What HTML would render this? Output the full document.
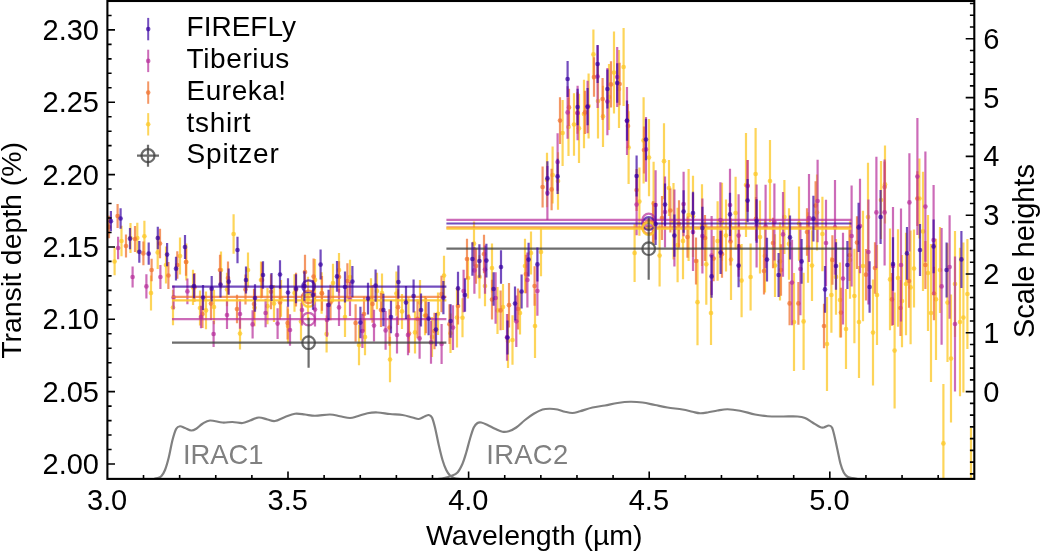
<!DOCTYPE html>
<html lang="en">
<head>
<meta charset="utf-8">
<title>Transit depth vs wavelength</title>
<style>
html,body{margin:0;padding:0;background:#fff;}
body{width:1040px;height:552px;overflow:hidden;font-family:"Liberation Sans",sans-serif;}
svg{display:block;will-change:transform;}
</style>
</head>
<body>
<svg width="1040" height="552" viewBox="0 0 1040 552" role="img" aria-label="Transit depth versus wavelength">
<rect x="0" y="0" width="1040" height="552" fill="#ffffff"/>
<defs><clipPath id="ax"><rect x="107.40" y="1.00" width="866.90" height="477.90"/></clipPath></defs>
<g clip-path="url(#ax)" fill="none">
<path d="M154.50 478.60 C155.00 478.50 156.38 478.39 157.50 478.00 C158.62 477.61 160.00 477.58 161.25 476.25 C162.50 474.92 163.75 473.12 165.00 470.00 C166.25 466.88 167.50 462.50 168.75 457.50 C170.00 452.50 171.25 444.79 172.50 440.00 C173.75 435.21 175.00 431.04 176.25 428.75 C177.50 426.46 178.54 426.38 180.00 426.25 C181.46 426.12 183.12 427.29 185.00 428.00 C186.88 428.71 189.38 430.38 191.25 430.50 C193.12 430.62 194.38 429.88 196.25 428.75 C198.12 427.62 200.21 425.12 202.50 423.75 C204.79 422.38 206.67 420.71 210.00 420.50 C213.33 420.29 218.75 422.25 222.50 422.50 C226.25 422.75 229.17 421.92 232.50 422.00 C235.83 422.08 239.58 423.25 242.50 423.00 C245.42 422.75 247.29 421.42 250.00 420.50 C252.71 419.58 255.83 417.67 258.75 417.50 C261.67 417.33 264.79 418.92 267.50 419.50 C270.21 420.08 272.08 421.42 275.00 421.00 C277.92 420.58 281.67 418.21 285.00 417.00 C288.33 415.79 291.67 414.17 295.00 413.75 C298.33 413.33 301.67 414.17 305.00 414.50 C308.33 414.83 310.83 415.75 315.00 415.75 C319.17 415.75 325.83 414.42 330.00 414.50 C334.17 414.58 336.67 415.67 340.00 416.25 C343.33 416.83 347.08 418.00 350.00 418.00 C352.92 418.00 354.58 417.04 357.50 416.25 C360.42 415.46 364.17 413.88 367.50 413.25 C370.83 412.62 373.75 412.38 377.50 412.50 C381.25 412.62 385.83 413.58 390.00 414.00 C394.17 414.42 398.75 414.42 402.50 415.00 C406.25 415.58 409.79 416.83 412.50 417.50 C415.21 418.17 416.67 419.21 418.75 419.00 C420.83 418.79 423.33 416.92 425.00 416.25 C426.67 415.58 427.58 414.79 428.75 415.00 C429.92 415.21 430.96 415.42 432.00 417.50 C433.04 419.58 433.88 422.92 435.00 427.50 C436.12 432.08 437.50 439.58 438.75 445.00 C440.00 450.42 441.25 455.83 442.50 460.00 C443.75 464.17 445.00 467.42 446.25 470.00 C447.50 472.58 448.71 474.17 450.00 475.50 C451.29 476.83 452.33 477.42 454.00 478.00 C455.67 478.58 459.00 478.83 460.00 479.00" stroke="#808080" stroke-width="2.2" stroke-linejoin="round"/>
<path d="M438.00 479.00 C439.00 478.83 441.83 478.50 444.00 478.00 C446.17 477.50 448.75 476.92 451.00 476.00 C453.25 475.08 455.58 474.54 457.50 472.50 C459.42 470.46 461.04 467.08 462.50 463.75 C463.96 460.42 465.00 456.67 466.25 452.50 C467.50 448.33 468.75 442.92 470.00 438.75 C471.25 434.58 472.50 430.12 473.75 427.50 C475.00 424.88 476.25 423.83 477.50 423.00 C478.75 422.17 479.58 422.17 481.25 422.50 C482.92 422.83 485.21 423.96 487.50 425.00 C489.79 426.04 492.50 427.62 495.00 428.75 C497.50 429.88 500.21 431.33 502.50 431.75 C504.79 432.17 506.46 431.96 508.75 431.25 C511.04 430.54 513.54 429.38 516.25 427.50 C518.96 425.62 522.08 422.29 525.00 420.00 C527.92 417.71 530.83 415.50 533.75 413.75 C536.67 412.00 539.79 410.33 542.50 409.50 C545.21 408.67 547.50 408.75 550.00 408.75 C552.50 408.75 555.00 409.00 557.50 409.50 C560.00 410.00 562.50 411.17 565.00 411.75 C567.50 412.33 570.00 413.08 572.50 413.00 C575.00 412.92 576.67 412.17 580.00 411.25 C583.33 410.33 588.33 408.46 592.50 407.50 C596.67 406.54 600.83 406.25 605.00 405.50 C609.17 404.75 613.33 403.62 617.50 403.00 C621.67 402.38 625.83 401.83 630.00 401.75 C634.17 401.67 638.33 401.96 642.50 402.50 C646.67 403.04 650.83 404.17 655.00 405.00 C659.17 405.83 662.92 406.75 667.50 407.50 C672.08 408.25 678.33 408.79 682.50 409.50 C686.67 410.21 689.58 411.12 692.50 411.75 C695.42 412.38 697.50 413.12 700.00 413.25 C702.50 413.38 704.58 412.96 707.50 412.50 C710.42 412.04 714.17 411.04 717.50 410.50 C720.83 409.96 723.75 409.21 727.50 409.25 C731.25 409.29 735.42 409.88 740.00 410.75 C744.58 411.62 750.42 413.58 755.00 414.50 C759.58 415.42 762.92 415.92 767.50 416.25 C772.08 416.58 777.50 416.46 782.50 416.50 C787.50 416.54 793.75 416.25 797.50 416.50 C801.25 416.75 802.50 417.00 805.00 418.00 C807.50 419.00 810.00 421.00 812.50 422.50 C815.00 424.00 818.12 426.17 820.00 427.00 C821.88 427.83 822.29 427.75 823.75 427.50 C825.21 427.25 827.38 425.50 828.75 425.50 C830.12 425.50 831.04 425.71 832.00 427.50 C832.96 429.29 833.58 432.50 834.50 436.25 C835.42 440.00 836.50 445.42 837.50 450.00 C838.50 454.58 839.46 460.00 840.50 463.75 C841.54 467.50 842.58 470.33 843.75 472.50 C844.92 474.67 846.04 475.83 847.50 476.75 C848.96 477.67 850.75 477.62 852.50 478.00 C854.25 478.38 857.08 478.83 858.00 479.00" stroke="#808080" stroke-width="2.2" stroke-linejoin="round"/>
</g>
<g clip-path="url(#ax)">
<path d="M114.60 247.79V275.21M121.50 225.85V256.15M130.50 222.98V253.02M137.30 222.79V253.21M144.40 220.76V251.84M151.00 275.53V310.47M157.70 235.72V269.08M166.00 246.49V283.51M173.00 289.92V325.28M180.00 237.45V274.55M186.30 243.53V280.47M193.00 269.87V305.04M200.00 290.43V325.57M206.00 291.61V329.19M214.00 289.76V324.24M221.00 251.49V288.51M227.00 272.78V306.20M233.60 214.30V253.70M240.00 317.60V349.60M248.00 252.50V287.50M254.50 289.24V326.37M261.00 261.49V298.51M267.50 288.04V324.32M274.00 284.99V322.01M281.00 280.00V316.65M288.00 308.69V343.31M294.50 274.35V311.65M301.00 302.76V340.44M308.00 276.68V320.15M315.00 258.96V300.98M321.60 272.35V313.65M326.60 315.56V352.44M333.00 263.86V302.14M339.00 252.90V287.10M345.00 297.09V336.91M350.00 259.67V294.33M359.00 324.80V365.20M365.00 318.69V355.31M371.00 278.25V319.75M377.00 272.69V309.31M382.00 273.41V312.59M390.00 336.81V382.19M396.40 271.49V315.71M402.00 293.92V328.88M408.50 296.93V338.48M415.00 311.25V353.55M420.00 279.92V325.22M425.00 295.92V335.28M432.00 316.95V357.05M438.00 292.47V334.99M444.00 255.74V295.46M450.50 313.49V352.98M457.00 287.60V347.60M462.50 298.17V337.32M468.00 257.40V298.60M474.00 221.41V265.88M479.50 255.27V298.51M485.00 265.78V306.22M492.00 243.47V292.53M497.50 286.89V333.91M503.00 283.94V330.06M508.00 314.00V368.00M512.50 315.20V364.80M520.00 291.41V334.59M525.00 238.77V293.23M531.00 231.51V274.49M535.00 294.00V358.00M541.00 227.73V276.27M547.00 152.71V207.29M552.60 146.49V203.51M558.00 152.28V209.72M562.60 100.07V165.93M568.50 98.08V155.92M574.00 93.33V155.67M579.00 93.64V162.96M584.00 79.66V148.34M588.60 73.51V138.49M593.40 29.40V79.40M598.00 63.59V138.41M603.00 85.79V147.01M609.00 63.97V130.03M614.00 31.60V113.60M619.00 50.06V127.94M623.60 28.00V106.00M628.60 111.15V184.05M634.60 224.00V282.00M639.40 167.41V235.79M643.60 97.33V183.47M649.00 119.02V196.18M653.60 161.64V245.56M659.60 224.60V286.60M664.00 123.20V199.20M669.00 160.00V216.00M673.50 182.88V259.54M677.60 207.77V282.23M683.00 202.77V279.14M688.60 168.96V261.04M693.00 175.74V257.00M697.50 259.20V345.20M702.00 184.18V265.95M706.30 223.87V304.73M711.00 281.00V345.00M717.60 201.18V280.82M722.00 182.65V260.66M726.00 199.62V271.58M731.00 219.26V299.94M735.60 176.65V249.35M741.60 243.93V317.27M746.00 133.00V237.00M750.60 243.50V310.50M755.60 128.00V220.00M760.00 200.47V273.53M765.00 219.26V292.55M770.00 140.00V222.00M775.00 234.24V296.96M780.00 222.26V300.41M784.40 180.02V253.98M789.00 208.20V279.71M794.00 273.00V371.00M799.00 186.53V260.66M803.60 272.80V370.00M808.00 212.27V282.67M812.00 230.15V301.05M817.00 174.39V250.57M822.40 196.85V271.15M827.00 297.00V391.00M831.40 257.20V332.80M836.00 239.10V314.74M840.00 262.62V337.38M846.00 288.88V369.12M850.00 221.21V298.79M854.40 248.68V343.32M859.00 266.00V378.00M863.00 210.68V321.32M868.00 162.79V271.38M873.00 279.60V385.60M877.00 244.99V345.01M881.00 161.00V239.00M885.00 145.40V223.40M890.00 228.59V330.21M894.60 292.60V408.60M898.00 229.34V326.66M902.00 254.99V347.13M906.00 232.81V335.19M910.60 230.62V344.18M914.00 229.60V307.60M919.40 158.60V238.60M923.00 171.86V290.94M928.00 214.89V331.11M931.00 244.00V382.00M936.00 238.64V360.09M940.00 227.00V313.00M943.40 384.00V502.80M947.50 243.34V361.89M951.00 294.60V422.60M955.00 231.00V337.00M960.00 247.87V396.13M963.40 242.60V392.60M967.40 239.00V349.00M971.00 428.00V568.00" stroke="#fcc92c" stroke-opacity="0.78" stroke-width="2.20" fill="none"/>
<g fill="#fcc92c" fill-opacity="0.78">
<circle cx="114.60" cy="261.50" r="2.35"/>
<circle cx="121.50" cy="241.00" r="2.35"/>
<circle cx="130.50" cy="238.00" r="2.35"/>
<circle cx="137.30" cy="238.00" r="2.35"/>
<circle cx="144.40" cy="236.30" r="2.35"/>
<circle cx="151.00" cy="293.00" r="2.35"/>
<circle cx="157.70" cy="252.40" r="2.35"/>
<circle cx="166.00" cy="265.00" r="2.35"/>
<circle cx="173.00" cy="307.60" r="2.35"/>
<circle cx="180.00" cy="256.00" r="2.35"/>
<circle cx="186.30" cy="262.00" r="2.35"/>
<circle cx="193.00" cy="287.46" r="2.35"/>
<circle cx="200.00" cy="308.00" r="2.35"/>
<circle cx="206.00" cy="310.40" r="2.35"/>
<circle cx="214.00" cy="307.00" r="2.35"/>
<circle cx="221.00" cy="270.00" r="2.35"/>
<circle cx="227.00" cy="289.49" r="2.35"/>
<circle cx="233.60" cy="234.00" r="2.35"/>
<circle cx="240.00" cy="333.60" r="2.35"/>
<circle cx="248.00" cy="270.00" r="2.35"/>
<circle cx="254.50" cy="307.81" r="2.35"/>
<circle cx="261.00" cy="280.00" r="2.35"/>
<circle cx="267.50" cy="306.18" r="2.35"/>
<circle cx="274.00" cy="303.50" r="2.35"/>
<circle cx="281.00" cy="298.32" r="2.35"/>
<circle cx="288.00" cy="326.00" r="2.35"/>
<circle cx="294.50" cy="293.00" r="2.35"/>
<circle cx="301.00" cy="321.60" r="2.35"/>
<circle cx="308.00" cy="298.42" r="2.35"/>
<circle cx="315.00" cy="279.97" r="2.35"/>
<circle cx="321.60" cy="293.00" r="2.35"/>
<circle cx="326.60" cy="334.00" r="2.35"/>
<circle cx="333.00" cy="283.00" r="2.35"/>
<circle cx="339.00" cy="270.00" r="2.35"/>
<circle cx="345.00" cy="317.00" r="2.35"/>
<circle cx="350.00" cy="277.00" r="2.35"/>
<circle cx="359.00" cy="345.00" r="2.35"/>
<circle cx="365.00" cy="337.00" r="2.35"/>
<circle cx="371.00" cy="299.00" r="2.35"/>
<circle cx="377.00" cy="291.00" r="2.35"/>
<circle cx="382.00" cy="293.00" r="2.35"/>
<circle cx="390.00" cy="359.50" r="2.35"/>
<circle cx="396.40" cy="293.60" r="2.35"/>
<circle cx="402.00" cy="311.40" r="2.35"/>
<circle cx="408.50" cy="317.71" r="2.35"/>
<circle cx="415.00" cy="332.40" r="2.35"/>
<circle cx="420.00" cy="302.57" r="2.35"/>
<circle cx="425.00" cy="315.60" r="2.35"/>
<circle cx="432.00" cy="337.00" r="2.35"/>
<circle cx="438.00" cy="313.73" r="2.35"/>
<circle cx="444.00" cy="275.60" r="2.35"/>
<circle cx="450.50" cy="333.23" r="2.35"/>
<circle cx="457.00" cy="317.60" r="2.35"/>
<circle cx="462.50" cy="317.74" r="2.35"/>
<circle cx="468.00" cy="278.00" r="2.35"/>
<circle cx="474.00" cy="243.64" r="2.35"/>
<circle cx="479.50" cy="276.89" r="2.35"/>
<circle cx="485.00" cy="286.00" r="2.35"/>
<circle cx="492.00" cy="268.00" r="2.35"/>
<circle cx="497.50" cy="310.40" r="2.35"/>
<circle cx="503.00" cy="307.00" r="2.35"/>
<circle cx="508.00" cy="341.00" r="2.35"/>
<circle cx="512.50" cy="340.00" r="2.35"/>
<circle cx="520.00" cy="313.00" r="2.35"/>
<circle cx="525.00" cy="266.00" r="2.35"/>
<circle cx="531.00" cy="253.00" r="2.35"/>
<circle cx="535.00" cy="326.00" r="2.35"/>
<circle cx="541.00" cy="252.00" r="2.35"/>
<circle cx="547.00" cy="180.00" r="2.35"/>
<circle cx="552.60" cy="175.00" r="2.35"/>
<circle cx="558.00" cy="181.00" r="2.35"/>
<circle cx="562.60" cy="133.00" r="2.35"/>
<circle cx="568.50" cy="127.00" r="2.35"/>
<circle cx="574.00" cy="124.50" r="2.35"/>
<circle cx="579.00" cy="128.30" r="2.35"/>
<circle cx="584.00" cy="114.00" r="2.35"/>
<circle cx="588.60" cy="106.00" r="2.35"/>
<circle cx="593.40" cy="54.40" r="2.35"/>
<circle cx="598.00" cy="101.00" r="2.35"/>
<circle cx="603.00" cy="116.40" r="2.35"/>
<circle cx="609.00" cy="97.00" r="2.35"/>
<circle cx="614.00" cy="72.60" r="2.35"/>
<circle cx="619.00" cy="89.00" r="2.35"/>
<circle cx="623.60" cy="67.00" r="2.35"/>
<circle cx="628.60" cy="147.60" r="2.35"/>
<circle cx="634.60" cy="253.00" r="2.35"/>
<circle cx="639.40" cy="201.60" r="2.35"/>
<circle cx="643.60" cy="140.40" r="2.35"/>
<circle cx="649.00" cy="157.60" r="2.35"/>
<circle cx="653.60" cy="203.60" r="2.35"/>
<circle cx="659.60" cy="255.60" r="2.35"/>
<circle cx="664.00" cy="161.20" r="2.35"/>
<circle cx="669.00" cy="188.00" r="2.35"/>
<circle cx="673.50" cy="221.21" r="2.35"/>
<circle cx="677.60" cy="245.00" r="2.35"/>
<circle cx="683.00" cy="240.95" r="2.35"/>
<circle cx="688.60" cy="215.00" r="2.35"/>
<circle cx="693.00" cy="216.37" r="2.35"/>
<circle cx="697.50" cy="302.20" r="2.35"/>
<circle cx="702.00" cy="225.06" r="2.35"/>
<circle cx="706.30" cy="264.30" r="2.35"/>
<circle cx="711.00" cy="313.00" r="2.35"/>
<circle cx="717.60" cy="241.00" r="2.35"/>
<circle cx="722.00" cy="221.65" r="2.35"/>
<circle cx="726.00" cy="235.60" r="2.35"/>
<circle cx="731.00" cy="259.60" r="2.35"/>
<circle cx="735.60" cy="213.00" r="2.35"/>
<circle cx="741.60" cy="280.60" r="2.35"/>
<circle cx="746.00" cy="185.00" r="2.35"/>
<circle cx="750.60" cy="277.00" r="2.35"/>
<circle cx="755.60" cy="174.00" r="2.35"/>
<circle cx="760.00" cy="237.00" r="2.35"/>
<circle cx="765.00" cy="255.90" r="2.35"/>
<circle cx="770.00" cy="181.00" r="2.35"/>
<circle cx="775.00" cy="265.60" r="2.35"/>
<circle cx="780.00" cy="261.33" r="2.35"/>
<circle cx="784.40" cy="217.00" r="2.35"/>
<circle cx="789.00" cy="243.96" r="2.35"/>
<circle cx="794.00" cy="322.00" r="2.35"/>
<circle cx="799.00" cy="223.60" r="2.35"/>
<circle cx="803.60" cy="321.40" r="2.35"/>
<circle cx="808.00" cy="247.47" r="2.35"/>
<circle cx="812.00" cy="265.60" r="2.35"/>
<circle cx="817.00" cy="212.48" r="2.35"/>
<circle cx="822.40" cy="234.00" r="2.35"/>
<circle cx="827.00" cy="344.00" r="2.35"/>
<circle cx="831.40" cy="295.00" r="2.35"/>
<circle cx="836.00" cy="276.92" r="2.35"/>
<circle cx="840.00" cy="300.00" r="2.35"/>
<circle cx="846.00" cy="329.00" r="2.35"/>
<circle cx="850.00" cy="260.00" r="2.35"/>
<circle cx="854.40" cy="296.00" r="2.35"/>
<circle cx="859.00" cy="322.00" r="2.35"/>
<circle cx="863.00" cy="266.00" r="2.35"/>
<circle cx="868.00" cy="217.08" r="2.35"/>
<circle cx="873.00" cy="332.60" r="2.35"/>
<circle cx="877.00" cy="295.00" r="2.35"/>
<circle cx="881.00" cy="200.00" r="2.35"/>
<circle cx="885.00" cy="184.40" r="2.35"/>
<circle cx="890.00" cy="279.40" r="2.35"/>
<circle cx="894.60" cy="350.60" r="2.35"/>
<circle cx="898.00" cy="278.00" r="2.35"/>
<circle cx="902.00" cy="301.06" r="2.35"/>
<circle cx="906.00" cy="284.00" r="2.35"/>
<circle cx="910.60" cy="287.40" r="2.35"/>
<circle cx="914.00" cy="268.60" r="2.35"/>
<circle cx="919.40" cy="198.60" r="2.35"/>
<circle cx="923.00" cy="231.40" r="2.35"/>
<circle cx="928.00" cy="273.00" r="2.35"/>
<circle cx="931.00" cy="313.00" r="2.35"/>
<circle cx="936.00" cy="299.37" r="2.35"/>
<circle cx="940.00" cy="270.00" r="2.35"/>
<circle cx="943.40" cy="443.40" r="2.35"/>
<circle cx="947.50" cy="302.62" r="2.35"/>
<circle cx="951.00" cy="358.60" r="2.35"/>
<circle cx="955.00" cy="284.00" r="2.35"/>
<circle cx="960.00" cy="322.00" r="2.35"/>
<circle cx="963.40" cy="317.60" r="2.35"/>
<circle cx="967.40" cy="294.00" r="2.35"/>
<circle cx="971.00" cy="498.00" r="2.35"/>
</g></g>
<g clip-path="url(#ax)">
<path d="M109.00 215.81V238.19M117.60 203.95V228.05M126.00 234.54V257.46M135.00 226.09V251.91M143.40 241.54V265.26M151.60 258.74V281.26M160.00 228.81V258.19M168.40 261.91V289.09M177.30 251.19V278.81M186.00 248.24V275.76M194.50 272.88V301.72M202.50 300.08V327.92M211.00 287.08V320.12M220.00 254.75V285.25M228.00 261.51V294.49M237.00 294.65V323.35M245.50 274.47V304.46M254.00 288.72V319.28M262.00 262.37V297.63M271.00 274.29V309.23M280.00 285.43V319.57M287.60 306.47V339.53M296.00 272.75V306.61M305.00 254.73V289.27M313.60 258.60V294.60M322.00 276.10V310.80M330.50 284.69V320.21M339.00 261.29V292.71M347.40 263.19V298.81M355.60 304.30V341.70M364.00 296.56V331.44M372.50 285.08V322.72M381.00 292.96V327.04M389.50 309.35V345.68M398.00 289.18V325.11M409.00 314.51V352.69M417.50 299.37V338.36M426.00 297.89V333.31M434.50 312.71V349.32M441.50 275.64V312.36M449.50 304.24V344.10M458.00 287.53V324.47M467.00 238.76V279.24M476.00 248.36V283.64M484.00 234.79V273.21M492.00 279.65V319.55M500.60 290.53V330.27M509.00 282.92V327.41M518.00 288.55V329.45M526.00 254.81V293.19M534.60 266.26V305.74M542.60 166.43V207.57M551.60 168.65V210.15M560.00 97.21V143.99M569.00 88.86V125.94M577.50 92.18V133.82M585.00 90.77V134.03M594.00 57.13V96.87M602.60 77.91V120.09M611.00 61.29V107.51M619.60 62.87V105.13M628.00 103.95V148.05M636.60 169.09V210.91M644.00 126.46V173.54M653.00 201.32V242.68M662.00 195.94V240.06M670.40 188.51V232.49M679.00 200.29V247.71M687.50 216.40V257.69M696.00 237.52V284.48M705.00 215.08V260.92M713.60 236.03V281.17M722.00 230.54V277.67M730.50 217.66V265.38M739.00 223.56V269.97M747.50 159.98V211.22M756.00 196.88V240.86M764.00 247.47V294.53M773.00 217.83V268.17M781.00 244.30V295.70M789.60 281.64V325.16M798.40 281.93V324.87M807.00 208.22V255.78M815.60 181.22V229.98M824.00 303.66V348.34M832.40 235.27V284.73M841.00 287.66V337.54M849.50 229.54V280.97M857.00 216.23V268.97M866.00 248.97V300.45M875.00 242.16V293.84M884.60 161.45V212.55M892.00 273.08V325.72M900.50 280.04V335.96M909.00 254.22V307.78M917.40 171.14V226.06M925.40 240.90V289.10M934.00 266.71V320.29" stroke="#f07634" stroke-opacity="0.76" stroke-width="2.20" fill="none"/>
<g fill="#f07634" fill-opacity="0.76">
<circle cx="109.00" cy="227.00" r="2.35"/>
<circle cx="117.60" cy="216.00" r="2.35"/>
<circle cx="126.00" cy="246.00" r="2.35"/>
<circle cx="135.00" cy="239.00" r="2.35"/>
<circle cx="143.40" cy="253.40" r="2.35"/>
<circle cx="151.60" cy="270.00" r="2.35"/>
<circle cx="160.00" cy="243.50" r="2.35"/>
<circle cx="168.40" cy="275.50" r="2.35"/>
<circle cx="177.30" cy="265.00" r="2.35"/>
<circle cx="186.00" cy="262.00" r="2.35"/>
<circle cx="194.50" cy="287.30" r="2.35"/>
<circle cx="202.50" cy="314.00" r="2.35"/>
<circle cx="211.00" cy="303.60" r="2.35"/>
<circle cx="220.00" cy="270.00" r="2.35"/>
<circle cx="228.00" cy="278.00" r="2.35"/>
<circle cx="237.00" cy="309.00" r="2.35"/>
<circle cx="245.50" cy="289.46" r="2.35"/>
<circle cx="254.00" cy="304.00" r="2.35"/>
<circle cx="262.00" cy="280.00" r="2.35"/>
<circle cx="271.00" cy="291.76" r="2.35"/>
<circle cx="280.00" cy="302.50" r="2.35"/>
<circle cx="287.60" cy="323.00" r="2.35"/>
<circle cx="296.00" cy="289.68" r="2.35"/>
<circle cx="305.00" cy="272.00" r="2.35"/>
<circle cx="313.60" cy="276.60" r="2.35"/>
<circle cx="322.00" cy="293.45" r="2.35"/>
<circle cx="330.50" cy="302.45" r="2.35"/>
<circle cx="339.00" cy="277.00" r="2.35"/>
<circle cx="347.40" cy="281.00" r="2.35"/>
<circle cx="355.60" cy="323.00" r="2.35"/>
<circle cx="364.00" cy="314.00" r="2.35"/>
<circle cx="372.50" cy="303.90" r="2.35"/>
<circle cx="381.00" cy="310.00" r="2.35"/>
<circle cx="389.50" cy="327.52" r="2.35"/>
<circle cx="398.00" cy="307.14" r="2.35"/>
<circle cx="409.00" cy="333.60" r="2.35"/>
<circle cx="417.50" cy="318.87" r="2.35"/>
<circle cx="426.00" cy="315.60" r="2.35"/>
<circle cx="434.50" cy="331.02" r="2.35"/>
<circle cx="441.50" cy="294.00" r="2.35"/>
<circle cx="449.50" cy="324.17" r="2.35"/>
<circle cx="458.00" cy="306.00" r="2.35"/>
<circle cx="467.00" cy="259.00" r="2.35"/>
<circle cx="476.00" cy="266.00" r="2.35"/>
<circle cx="484.00" cy="254.00" r="2.35"/>
<circle cx="492.00" cy="299.60" r="2.35"/>
<circle cx="500.60" cy="310.40" r="2.35"/>
<circle cx="509.00" cy="305.17" r="2.35"/>
<circle cx="518.00" cy="309.00" r="2.35"/>
<circle cx="526.00" cy="274.00" r="2.35"/>
<circle cx="534.60" cy="286.00" r="2.35"/>
<circle cx="542.60" cy="187.00" r="2.35"/>
<circle cx="551.60" cy="189.40" r="2.35"/>
<circle cx="560.00" cy="120.60" r="2.35"/>
<circle cx="569.00" cy="107.40" r="2.35"/>
<circle cx="577.50" cy="113.00" r="2.35"/>
<circle cx="585.00" cy="112.40" r="2.35"/>
<circle cx="594.00" cy="77.00" r="2.35"/>
<circle cx="602.60" cy="99.00" r="2.35"/>
<circle cx="611.00" cy="84.40" r="2.35"/>
<circle cx="619.60" cy="84.00" r="2.35"/>
<circle cx="628.00" cy="126.00" r="2.35"/>
<circle cx="636.60" cy="190.00" r="2.35"/>
<circle cx="644.00" cy="150.00" r="2.35"/>
<circle cx="653.00" cy="222.00" r="2.35"/>
<circle cx="662.00" cy="218.00" r="2.35"/>
<circle cx="670.40" cy="210.50" r="2.35"/>
<circle cx="679.00" cy="224.00" r="2.35"/>
<circle cx="687.50" cy="237.05" r="2.35"/>
<circle cx="696.00" cy="261.00" r="2.35"/>
<circle cx="705.00" cy="238.00" r="2.35"/>
<circle cx="713.60" cy="258.60" r="2.35"/>
<circle cx="722.00" cy="254.10" r="2.35"/>
<circle cx="730.50" cy="241.52" r="2.35"/>
<circle cx="739.00" cy="246.77" r="2.35"/>
<circle cx="747.50" cy="185.60" r="2.35"/>
<circle cx="756.00" cy="218.87" r="2.35"/>
<circle cx="764.00" cy="271.00" r="2.35"/>
<circle cx="773.00" cy="243.00" r="2.35"/>
<circle cx="781.00" cy="270.00" r="2.35"/>
<circle cx="789.60" cy="303.40" r="2.35"/>
<circle cx="798.40" cy="303.40" r="2.35"/>
<circle cx="807.00" cy="232.00" r="2.35"/>
<circle cx="815.60" cy="205.60" r="2.35"/>
<circle cx="824.00" cy="326.00" r="2.35"/>
<circle cx="832.40" cy="260.00" r="2.35"/>
<circle cx="841.00" cy="312.60" r="2.35"/>
<circle cx="849.50" cy="255.25" r="2.35"/>
<circle cx="857.00" cy="242.60" r="2.35"/>
<circle cx="866.00" cy="274.71" r="2.35"/>
<circle cx="875.00" cy="268.00" r="2.35"/>
<circle cx="884.60" cy="187.00" r="2.35"/>
<circle cx="892.00" cy="299.40" r="2.35"/>
<circle cx="900.50" cy="308.00" r="2.35"/>
<circle cx="909.00" cy="281.00" r="2.35"/>
<circle cx="917.40" cy="198.60" r="2.35"/>
<circle cx="925.40" cy="265.00" r="2.35"/>
<circle cx="934.00" cy="293.50" r="2.35"/>
</g></g>
<g clip-path="url(#ax)">
<path d="M118.10 236.80V259.20M132.60 266.42V287.58M146.40 274.30V298.50M160.40 265.12V288.88M173.60 285.53V309.27M187.40 278.57V304.23M201.00 305.68V328.32M213.60 320.92V347.08M227.00 300.97V329.03M240.00 299.21V328.79M252.60 310.32V338.48M265.60 298.69V327.31M277.60 308.15V339.05M290.00 314.13V345.87M302.00 294.42V325.58M315.00 292.79V326.41M327.00 303.20V336.80M339.00 288.78V326.02M350.00 281.96V316.04M362.40 313.88V348.12M374.00 309.70V341.50M385.60 311.03V349.77M397.00 316.61V353.39M408.00 314.79V355.21M419.60 318.03V358.77M431.00 321.11V363.69M441.60 323.99V364.01M453.00 305.32V349.88M463.60 269.75V312.25M474.40 247.02V293.78M485.00 245.50V293.70M495.60 272.31V323.69M507.00 314.12V360.68M516.30 295.54V347.06M527.40 252.60V307.40M537.40 266.19V315.81M547.40 165.98V220.02M557.60 133.25V190.75M567.60 86.17V138.63M577.60 85.78V140.22M587.60 80.73V133.27M597.60 45.20V108.00M607.40 67.89V135.31M617.20 47.06V106.94M627.00 87.05V154.95M636.60 174.02V235.18M646.00 117.07V181.73M655.60 170.35V239.65M665.00 176.62V247.38M674.40 189.60V266.40M683.60 171.70V236.30M693.00 193.11V270.89M702.40 198.46V273.54M711.60 216.09V295.11M720.40 182.24V257.76M730.00 168.80V241.20M738.60 194.35V276.85M747.60 160.00V212.00M756.60 184.41V267.59M765.60 184.65V268.15M774.40 183.45V260.55M783.00 192.09V276.71M792.00 239.84V325.36M800.40 222.70V315.30M809.00 173.97V262.03M817.60 159.76V242.24M826.00 199.69V286.31M835.00 180.11V274.69M843.00 232.79V324.41M851.60 185.39V286.61M860.00 178.71V273.29M868.40 199.58V304.42M876.40 156.82V267.98M884.60 159.39V265.41M893.00 206.97V325.03M901.00 208.47V321.53M909.40 153.35V251.45M917.40 118.09V235.11M925.40 151.52V261.68M933.60 184.93V295.07M941.60 227.98V344.82M949.60 215.26V318.74M955.00 256.40V391.60" stroke="#b62c9a" stroke-opacity="0.70" stroke-width="2.20" fill="none"/>
<g fill="#b62c9a" fill-opacity="0.70">
<circle cx="118.10" cy="248.00" r="2.35"/>
<circle cx="132.60" cy="277.00" r="2.35"/>
<circle cx="146.40" cy="286.40" r="2.35"/>
<circle cx="160.40" cy="277.00" r="2.35"/>
<circle cx="173.60" cy="297.40" r="2.35"/>
<circle cx="187.40" cy="291.40" r="2.35"/>
<circle cx="201.00" cy="317.00" r="2.35"/>
<circle cx="213.60" cy="334.00" r="2.35"/>
<circle cx="227.00" cy="315.00" r="2.35"/>
<circle cx="240.00" cy="314.00" r="2.35"/>
<circle cx="252.60" cy="324.40" r="2.35"/>
<circle cx="265.60" cy="313.00" r="2.35"/>
<circle cx="277.60" cy="323.60" r="2.35"/>
<circle cx="290.00" cy="330.00" r="2.35"/>
<circle cx="302.00" cy="310.00" r="2.35"/>
<circle cx="315.00" cy="309.60" r="2.35"/>
<circle cx="327.00" cy="320.00" r="2.35"/>
<circle cx="339.00" cy="307.40" r="2.35"/>
<circle cx="350.00" cy="299.00" r="2.35"/>
<circle cx="362.40" cy="331.00" r="2.35"/>
<circle cx="374.00" cy="325.60" r="2.35"/>
<circle cx="385.60" cy="330.40" r="2.35"/>
<circle cx="397.00" cy="335.00" r="2.35"/>
<circle cx="408.00" cy="335.00" r="2.35"/>
<circle cx="419.60" cy="338.40" r="2.35"/>
<circle cx="431.00" cy="342.40" r="2.35"/>
<circle cx="441.60" cy="344.00" r="2.35"/>
<circle cx="453.00" cy="327.60" r="2.35"/>
<circle cx="463.60" cy="291.00" r="2.35"/>
<circle cx="474.40" cy="270.40" r="2.35"/>
<circle cx="485.00" cy="269.60" r="2.35"/>
<circle cx="495.60" cy="298.00" r="2.35"/>
<circle cx="507.00" cy="337.40" r="2.35"/>
<circle cx="516.30" cy="321.30" r="2.35"/>
<circle cx="527.40" cy="280.00" r="2.35"/>
<circle cx="537.40" cy="291.00" r="2.35"/>
<circle cx="547.40" cy="193.00" r="2.35"/>
<circle cx="557.60" cy="162.00" r="2.35"/>
<circle cx="567.60" cy="112.40" r="2.35"/>
<circle cx="577.60" cy="113.00" r="2.35"/>
<circle cx="587.60" cy="107.00" r="2.35"/>
<circle cx="597.60" cy="76.60" r="2.35"/>
<circle cx="607.40" cy="101.60" r="2.35"/>
<circle cx="617.20" cy="77.00" r="2.35"/>
<circle cx="627.00" cy="121.00" r="2.35"/>
<circle cx="636.60" cy="204.60" r="2.35"/>
<circle cx="646.00" cy="149.40" r="2.35"/>
<circle cx="655.60" cy="205.00" r="2.35"/>
<circle cx="665.00" cy="212.00" r="2.35"/>
<circle cx="674.40" cy="228.00" r="2.35"/>
<circle cx="683.60" cy="204.00" r="2.35"/>
<circle cx="693.00" cy="232.00" r="2.35"/>
<circle cx="702.40" cy="236.00" r="2.35"/>
<circle cx="711.60" cy="255.60" r="2.35"/>
<circle cx="720.40" cy="220.00" r="2.35"/>
<circle cx="730.00" cy="205.00" r="2.35"/>
<circle cx="738.60" cy="235.60" r="2.35"/>
<circle cx="747.60" cy="186.00" r="2.35"/>
<circle cx="756.60" cy="226.00" r="2.35"/>
<circle cx="765.60" cy="226.40" r="2.35"/>
<circle cx="774.40" cy="222.00" r="2.35"/>
<circle cx="783.00" cy="234.40" r="2.35"/>
<circle cx="792.00" cy="282.60" r="2.35"/>
<circle cx="800.40" cy="269.00" r="2.35"/>
<circle cx="809.00" cy="218.00" r="2.35"/>
<circle cx="817.60" cy="201.00" r="2.35"/>
<circle cx="826.00" cy="243.00" r="2.35"/>
<circle cx="835.00" cy="227.40" r="2.35"/>
<circle cx="843.00" cy="278.60" r="2.35"/>
<circle cx="851.60" cy="236.00" r="2.35"/>
<circle cx="860.00" cy="226.00" r="2.35"/>
<circle cx="868.40" cy="252.00" r="2.35"/>
<circle cx="876.40" cy="212.40" r="2.35"/>
<circle cx="884.60" cy="212.40" r="2.35"/>
<circle cx="893.00" cy="266.00" r="2.35"/>
<circle cx="901.00" cy="265.00" r="2.35"/>
<circle cx="909.40" cy="202.40" r="2.35"/>
<circle cx="917.40" cy="176.60" r="2.35"/>
<circle cx="925.40" cy="206.60" r="2.35"/>
<circle cx="933.60" cy="240.00" r="2.35"/>
<circle cx="941.60" cy="286.40" r="2.35"/>
<circle cx="949.60" cy="267.00" r="2.35"/>
<circle cx="955.00" cy="324.00" r="2.35"/>
</g></g>
<g clip-path="url(#ax)" fill="none" stroke-width="2.2">
<path d="M172.00 286.60H446.40" stroke="#3802a2" stroke-opacity="0.70"/>
<path d="M446.40 223.50H851.50" stroke="#3802a2" stroke-opacity="0.70"/>
<path d="M172.00 319.10H446.40" stroke="#b62c9a" stroke-opacity="0.70"/>
<path d="M446.40 219.90H851.50" stroke="#b62c9a" stroke-opacity="0.70"/>
<path d="M172.00 296.80H446.40" stroke="#f07634" stroke-opacity="0.76"/>
<path d="M446.40 227.30H851.50" stroke="#f07634" stroke-opacity="0.76"/>
<path d="M172.00 300.40H446.40" stroke="#fcc92c" stroke-opacity="0.90"/>
<path d="M446.40 228.60H851.50" stroke="#fcc92c" stroke-opacity="0.90"/>
<path d="M172.00 342.70H446.40" stroke="#3c3c3c" stroke-opacity="0.75"/>
<path d="M446.40 248.70H851.50" stroke="#3c3c3c" stroke-opacity="0.75"/>
<circle cx="308.60" cy="286.60" r="6.3" stroke="#3802a2" stroke-opacity="0.70"/>
<circle cx="648.70" cy="223.50" r="6.3" stroke="#3802a2" stroke-opacity="0.70"/>
<circle cx="308.60" cy="319.10" r="6.3" stroke="#b62c9a" stroke-opacity="0.70"/>
<circle cx="648.70" cy="219.90" r="6.3" stroke="#b62c9a" stroke-opacity="0.70"/>
<circle cx="308.60" cy="296.80" r="6.3" stroke="#f07634" stroke-opacity="0.76"/>
<circle cx="648.70" cy="227.30" r="6.3" stroke="#f07634" stroke-opacity="0.76"/>
<circle cx="308.60" cy="300.40" r="6.3" stroke="#fcc92c" stroke-opacity="0.90"/>
<circle cx="648.70" cy="228.60" r="6.3" stroke="#fcc92c" stroke-opacity="0.90"/>
<circle cx="308.60" cy="342.70" r="6.3" stroke="#3c3c3c" stroke-opacity="0.75"/>
<circle cx="648.70" cy="248.70" r="6.3" stroke="#3c3c3c" stroke-opacity="0.75"/>
<path d="M308.60 317.70V367.70M648.70 217.70V279.70" stroke="#3c3c3c" stroke-opacity="0.75"/>
</g>
<g clip-path="url(#ax)">
<path d="M110.90 211.10V231.30M120.60 208.13V228.87M130.00 228.08V249.32M139.30 240.93V262.67M148.70 242.58V264.82M157.80 226.63V249.37M167.10 242.98V266.22M176.00 256.85V280.55M185.00 234.90V259.10M194.00 273.66V298.34M203.00 284.94V310.06M211.70 275.96V301.44M220.50 271.57V297.43M228.70 268.60V294.80M237.50 236.72V263.28M246.00 266.54V293.46M255.00 284.35V311.65M263.00 261.19V288.81M271.50 273.01V300.99M280.00 260.33V288.67M288.00 278.17V306.83M296.00 274.20V303.20M304.40 271.32V300.68M313.00 280.15V309.85M320.60 249.59V279.61M328.60 289.84V320.16M337.00 261.08V291.72M345.00 271.53V302.47M352.40 265.99V297.21M360.40 306.84V338.36M368.00 282.70V314.50M375.60 269.56V301.64M383.40 293.81V326.19M391.00 300.67V333.33M398.40 265.53V298.47M406.00 286.08V319.12M413.60 279.45V312.55M421.00 293.43V326.57M428.60 302.00V335.20M436.00 312.97V346.23M443.40 280.95V314.25M450.60 304.32V337.68M458.00 271.69V305.11M465.00 278.27V311.73M472.40 242.24V275.76M479.40 244.22V277.78M486.40 243.79V277.41M493.60 272.17V305.83M501.00 250.14V283.86M507.50 320.62V354.38M515.00 286.59V320.41M521.60 274.57V308.43M528.60 242.64V276.56M537.40 247.41V281.39M547.40 161.13V195.67M557.60 158.75V194.05M567.60 60.98V97.02M577.60 88.65V125.35M587.60 87.91V125.29M597.60 44.98V83.02M607.40 69.61V108.39M617.20 63.24V102.76M627.00 100.47V140.73M636.60 155.51V196.49M646.00 118.65V160.35M655.60 202.96V245.04M665.00 183.49V225.71M674.40 214.43V256.77M683.60 190.36V232.84M693.00 191.69V234.31M702.40 206.63V249.37M711.60 254.96V297.84M720.60 231.10V274.10M730.00 192.83V235.97M738.60 243.97V287.23M747.60 178.90V222.30M756.60 199.24V242.76M767.00 237.76V281.44M778.60 253.08V296.92M790.00 215.40V259.40M801.60 238.97V283.83M813.40 195.74V241.46M825.00 266.11V312.69M836.00 242.31V289.69M847.40 240.89V289.11M858.60 202.83V251.97M869.60 261.18V312.82M880.60 190.01V243.99M893.00 237.32V290.68M907.00 227.08V279.73M920.00 224.00V276.00M933.60 219.57V273.23M946.60 242.38V297.62M961.40 230.90V287.90" stroke="#3802a2" stroke-opacity="0.70" stroke-width="2.20" fill="none"/>
<g fill="#3802a2" fill-opacity="0.70">
<circle cx="110.90" cy="221.20" r="2.35"/>
<circle cx="120.60" cy="218.50" r="2.35"/>
<circle cx="130.00" cy="238.70" r="2.35"/>
<circle cx="139.30" cy="251.80" r="2.35"/>
<circle cx="148.70" cy="253.70" r="2.35"/>
<circle cx="157.80" cy="238.00" r="2.35"/>
<circle cx="167.10" cy="254.60" r="2.35"/>
<circle cx="176.00" cy="268.70" r="2.35"/>
<circle cx="185.00" cy="247.00" r="2.35"/>
<circle cx="194.00" cy="286.00" r="2.35"/>
<circle cx="203.00" cy="297.50" r="2.35"/>
<circle cx="211.70" cy="288.70" r="2.35"/>
<circle cx="220.50" cy="284.50" r="2.35"/>
<circle cx="228.70" cy="281.70" r="2.35"/>
<circle cx="237.50" cy="250.00" r="2.35"/>
<circle cx="246.00" cy="280.00" r="2.35"/>
<circle cx="255.00" cy="298.00" r="2.35"/>
<circle cx="263.00" cy="275.00" r="2.35"/>
<circle cx="271.50" cy="287.00" r="2.35"/>
<circle cx="280.00" cy="274.50" r="2.35"/>
<circle cx="288.00" cy="292.50" r="2.35"/>
<circle cx="296.00" cy="288.70" r="2.35"/>
<circle cx="304.40" cy="286.00" r="2.35"/>
<circle cx="313.00" cy="295.00" r="2.35"/>
<circle cx="320.60" cy="264.60" r="2.35"/>
<circle cx="328.60" cy="305.00" r="2.35"/>
<circle cx="337.00" cy="276.40" r="2.35"/>
<circle cx="345.00" cy="287.00" r="2.35"/>
<circle cx="352.40" cy="281.60" r="2.35"/>
<circle cx="360.40" cy="322.60" r="2.35"/>
<circle cx="368.00" cy="298.60" r="2.35"/>
<circle cx="375.60" cy="285.60" r="2.35"/>
<circle cx="383.40" cy="310.00" r="2.35"/>
<circle cx="391.00" cy="317.00" r="2.35"/>
<circle cx="398.40" cy="282.00" r="2.35"/>
<circle cx="406.00" cy="302.60" r="2.35"/>
<circle cx="413.60" cy="296.00" r="2.35"/>
<circle cx="421.00" cy="310.00" r="2.35"/>
<circle cx="428.60" cy="318.60" r="2.35"/>
<circle cx="436.00" cy="329.60" r="2.35"/>
<circle cx="443.40" cy="297.60" r="2.35"/>
<circle cx="450.60" cy="321.00" r="2.35"/>
<circle cx="458.00" cy="288.40" r="2.35"/>
<circle cx="465.00" cy="295.00" r="2.35"/>
<circle cx="472.40" cy="259.00" r="2.35"/>
<circle cx="479.40" cy="261.00" r="2.35"/>
<circle cx="486.40" cy="260.60" r="2.35"/>
<circle cx="493.60" cy="289.00" r="2.35"/>
<circle cx="501.00" cy="267.00" r="2.35"/>
<circle cx="507.50" cy="337.50" r="2.35"/>
<circle cx="515.00" cy="303.50" r="2.35"/>
<circle cx="521.60" cy="291.50" r="2.35"/>
<circle cx="528.60" cy="259.60" r="2.35"/>
<circle cx="537.40" cy="264.40" r="2.35"/>
<circle cx="547.40" cy="178.40" r="2.35"/>
<circle cx="557.60" cy="176.40" r="2.35"/>
<circle cx="567.60" cy="79.00" r="2.35"/>
<circle cx="577.60" cy="107.00" r="2.35"/>
<circle cx="587.60" cy="106.60" r="2.35"/>
<circle cx="597.60" cy="64.00" r="2.35"/>
<circle cx="607.40" cy="89.00" r="2.35"/>
<circle cx="617.20" cy="83.00" r="2.35"/>
<circle cx="627.00" cy="120.60" r="2.35"/>
<circle cx="636.60" cy="176.00" r="2.35"/>
<circle cx="646.00" cy="139.50" r="2.35"/>
<circle cx="655.60" cy="224.00" r="2.35"/>
<circle cx="665.00" cy="204.60" r="2.35"/>
<circle cx="674.40" cy="235.60" r="2.35"/>
<circle cx="683.60" cy="211.60" r="2.35"/>
<circle cx="693.00" cy="213.00" r="2.35"/>
<circle cx="702.40" cy="228.00" r="2.35"/>
<circle cx="711.60" cy="276.40" r="2.35"/>
<circle cx="720.60" cy="252.60" r="2.35"/>
<circle cx="730.00" cy="214.40" r="2.35"/>
<circle cx="738.60" cy="265.60" r="2.35"/>
<circle cx="747.60" cy="200.60" r="2.35"/>
<circle cx="756.60" cy="221.00" r="2.35"/>
<circle cx="767.00" cy="259.60" r="2.35"/>
<circle cx="778.60" cy="275.00" r="2.35"/>
<circle cx="790.00" cy="237.40" r="2.35"/>
<circle cx="801.60" cy="261.40" r="2.35"/>
<circle cx="813.40" cy="218.60" r="2.35"/>
<circle cx="825.00" cy="289.40" r="2.35"/>
<circle cx="836.00" cy="266.00" r="2.35"/>
<circle cx="847.40" cy="265.00" r="2.35"/>
<circle cx="858.60" cy="227.40" r="2.35"/>
<circle cx="869.60" cy="287.00" r="2.35"/>
<circle cx="880.60" cy="217.00" r="2.35"/>
<circle cx="893.00" cy="264.00" r="2.35"/>
<circle cx="907.00" cy="253.40" r="2.35"/>
<circle cx="920.00" cy="250.00" r="2.35"/>
<circle cx="933.60" cy="246.40" r="2.35"/>
<circle cx="946.60" cy="270.00" r="2.35"/>
<circle cx="961.40" cy="259.40" r="2.35"/>
</g></g>
<g stroke="#000" fill="none">
<rect x="107.40" y="1.00" width="866.90" height="477.90" stroke-width="2.1"/>
<path d="M107.40 464.00h7.60M107.40 449.53h4.20M107.40 435.06h4.20M107.40 420.59h4.20M107.40 406.12h4.20M107.40 391.65h7.60M107.40 377.18h4.20M107.40 362.71h4.20M107.40 348.24h4.20M107.40 333.77h4.20M107.40 319.30h7.60M107.40 304.83h4.20M107.40 290.36h4.20M107.40 275.89h4.20M107.40 261.42h4.20M107.40 246.95h7.60M107.40 232.48h4.20M107.40 218.01h4.20M107.40 203.54h4.20M107.40 189.07h4.20M107.40 174.60h7.60M107.40 160.13h4.20M107.40 145.66h4.20M107.40 131.19h4.20M107.40 116.72h4.20M107.40 102.25h7.60M107.40 87.78h4.20M107.40 73.31h4.20M107.40 58.84h4.20M107.40 44.37h4.20M107.40 29.90h7.60M107.40 15.43h4.20M974.30 473.92h-4.40M974.30 462.16h-4.40M974.30 450.40h-4.40M974.30 438.64h-4.40M974.30 426.88h-4.40M974.30 415.12h-4.40M974.30 403.36h-4.40M974.30 391.60h-8.60M974.30 379.84h-4.40M974.30 368.08h-4.40M974.30 356.32h-4.40M974.30 344.56h-4.40M974.30 332.80h-8.60M974.30 321.04h-4.40M974.30 309.28h-4.40M974.30 297.52h-4.40M974.30 285.76h-4.40M974.30 274.00h-8.60M974.30 262.24h-4.40M974.30 250.48h-4.40M974.30 238.72h-4.40M974.30 226.96h-4.40M974.30 215.20h-8.60M974.30 203.44h-4.40M974.30 191.68h-4.40M974.30 179.92h-4.40M974.30 168.16h-4.40M974.30 156.40h-8.60M974.30 144.64h-4.40M974.30 132.88h-4.40M974.30 121.12h-4.40M974.30 109.36h-4.40M974.30 97.60h-8.60M974.30 85.84h-4.40M974.30 74.08h-4.40M974.30 62.32h-4.40M974.30 50.56h-4.40M974.30 38.80h-8.60M974.30 27.04h-4.40M974.30 15.28h-4.40M974.30 3.52h-4.40M143.52 478.90v-4.00M179.64 478.90v-4.00M215.76 478.90v-4.00M251.88 478.90v-4.00M288.00 478.90v-7.40M324.12 478.90v-4.00M360.25 478.90v-4.00M396.37 478.90v-4.00M432.49 478.90v-4.00M468.61 478.90v-7.40M504.73 478.90v-4.00M540.85 478.90v-4.00M576.97 478.90v-4.00M613.09 478.90v-4.00M649.21 478.90v-7.40M685.33 478.90v-4.00M721.45 478.90v-4.00M757.57 478.90v-4.00M793.70 478.90v-4.00M829.82 478.90v-7.40M865.94 478.90v-4.00M902.06 478.90v-4.00M938.18 478.90v-4.00" stroke-width="1.6"/>
</g>
<g font-family="'Liberation Sans', sans-serif" font-size="28" fill="#000">
<g font-size="29">
<text x="99.00" y="39.90" text-anchor="end">2.30</text>
<text x="99.00" y="112.25" text-anchor="end">2.25</text>
<text x="99.00" y="184.60" text-anchor="end">2.20</text>
<text x="99.00" y="256.95" text-anchor="end">2.15</text>
<text x="99.00" y="329.30" text-anchor="end">2.10</text>
<text x="99.00" y="401.65" text-anchor="end">2.05</text>
<text x="99.00" y="474.00" text-anchor="end">2.00</text>
<text x="107.10" y="510.30" text-anchor="middle">3.0</text>
<text x="287.70" y="510.30" text-anchor="middle">3.5</text>
<text x="468.31" y="510.30" text-anchor="middle">4.0</text>
<text x="648.91" y="510.30" text-anchor="middle">4.5</text>
<text x="829.52" y="510.30" text-anchor="middle">5.0</text>
<text x="983.30" y="401.60">0</text>
<text x="983.30" y="342.80">1</text>
<text x="983.30" y="284.00">2</text>
<text x="983.30" y="225.20">3</text>
<text x="983.30" y="166.40">4</text>
<text x="983.30" y="107.60">5</text>
<text x="983.30" y="48.80">6</text>
</g>
<text x="534.3" y="545.2" font-size="28.5" text-anchor="middle">Wavelength (µm)</text>
<text transform="translate(21.2 250.4) rotate(-90)" font-size="28.4" text-anchor="middle">Transit depth (%)</text>
<text transform="translate(1034 251) rotate(-90)" font-size="29" text-anchor="middle">Scale heights</text>
<text x="186.6" y="36.30" letter-spacing="0.00">FIREFLy</text>
<text x="186.6" y="68.10" letter-spacing="0.60">Tiberius</text>
<text x="186.6" y="99.80" letter-spacing="0.50">Eureka!</text>
<text x="186.6" y="131.50" letter-spacing="0.66">tshirt</text>
<text x="186.6" y="163.20" letter-spacing="0.83">Spitzer</text>
<text x="182.9" y="464.3" font-size="27.4" fill="#808080">IRAC1</text>
<text x="486.3" y="464.3" font-size="27.4" letter-spacing="0.3" fill="#808080">IRAC2</text>
</g>
<path d="M148.2 17.90V40.30" stroke="#3802a2" stroke-opacity="0.70" stroke-width="2.0"/>
<circle cx="148.2" cy="29.10" r="2.3" fill="#3802a2" fill-opacity="0.70"/>
<path d="M148.2 49.70V72.10" stroke="#b62c9a" stroke-opacity="0.70" stroke-width="2.0"/>
<circle cx="148.2" cy="60.90" r="2.3" fill="#b62c9a" fill-opacity="0.70"/>
<path d="M148.2 81.40V103.80" stroke="#f07634" stroke-opacity="0.76" stroke-width="2.0"/>
<circle cx="148.2" cy="92.60" r="2.3" fill="#f07634" fill-opacity="0.76"/>
<path d="M148.2 113.10V135.50" stroke="#fcc92c" stroke-opacity="0.78" stroke-width="2.0"/>
<circle cx="148.2" cy="124.30" r="2.3" fill="#fcc92c" fill-opacity="0.78"/>
<g stroke="#3c3c3c" stroke-opacity="0.75" stroke-width="2.2" fill="none">
<path d="M137.0 155.70H159.0M148.0 144.70V166.70"/>
<circle cx="148.0" cy="155.70" r="6.5"/>
</g>
</svg>
</body>
</html>
